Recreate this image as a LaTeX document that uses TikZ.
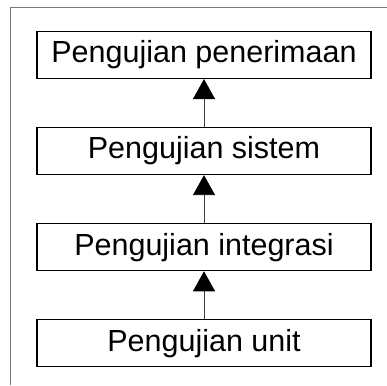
\documentclass[tikz,border=0pt]{standalone}
\usepackage{fontspec}
\setmainfont{Liberation Sans}
\usepackage{tikz}
\usetikzlibrary{arrows.meta,positioning}
\usepackage{xcolor}
\definecolor{framegray}{HTML}{7A7A7A}
\definecolor{linegray}{HTML}{3C3C3C}
\tikzset{
  stagebox/.style={
    draw=black,
    fill=white,
    line width=1.1pt,
    minimum width=334pt,
    minimum height=47pt,
    inner sep=0pt,
    align=center,
    font=\fontsize{30.5}{36}\selectfont
  },
  uparrow/.style={
    -{Triangle[length=20pt,width=22pt,color=black]},
    line width=0.9pt,
    draw=linegray
  }
}
\begin{document}
\begin{tikzpicture}[x=1pt,y=1pt,node distance=48pt]
\useasboundingbox (0,0) rectangle (387,-385);
% outer frame
\draw[framegray, line width=1pt] (10,-385) -- (10,-7.5) -- (387,-7.5);
\node[stagebox] at (204,-55) (terima) {Pengujian penerimaan};
\node[stagebox, below=of terima] (sistem) {Pengujian sistem};
\node[stagebox, below=of sistem] (integrasi) {Pengujian integrasi};
\node[stagebox, below=of integrasi] (unit) {Pengujian unit};
\foreach \a/\b in {unit/integrasi,integrasi/sistem,sistem/terima} {
  \draw[uparrow] (\a) -- (\b);
}
\end{tikzpicture}
\end{document}
